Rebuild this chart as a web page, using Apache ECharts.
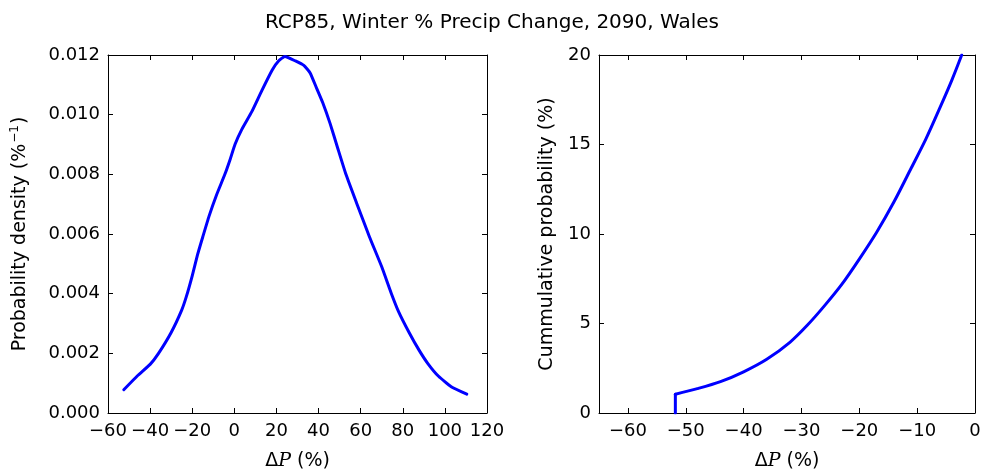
<!DOCTYPE html>
<html>
<head>
<meta charset="utf-8">
<script src="https://cdn.jsdelivr.net/npm/echarts@6/dist/echarts.min.js"></script>
<style>html,body{margin:0;padding:0;background:#fff}#c{width:984px;height:476px}</style>
</head>
<body>
<div id="c"></div>
<script>
const titleText = "RCP85, Winter % Precip Change, 2090, Wales";
// Left panel: probability density
const pdfX = [-52.5,-46,-40,-36,-30,-25,-22.8,-20,-17.5,-15,-12,-8.5,-4.5,-2,0.3,3.5,8.3,13,18,21,24,29,33,36,39,42,45.5,49,53,58,64.2,70,74.6,78,83,87.8,92,97,103,110.4];
const pdfY = [0.00078,0.00125,0.00163,0.0020,0.0027,0.00345,0.0039,0.0046,0.0053,0.0059,0.0066,0.0073,0.0080,0.0085,0.0090,0.0095,0.0101,0.0108,0.0115,0.0118,0.01195,0.0118,0.01165,0.0114,0.0109,0.0104,0.0097,0.0089,0.0080,0.00705,0.0059,0.0049,0.0040,0.0034,0.0027,0.0021,0.00165,0.00123,0.00088,0.00063];
// Right panel: cumulative probability
const cdfStepX = [-51.8,-51.8];
const cdfStepY = [0,1.05];
const cdfX = [-51.8,-48,-44,-40,-36,-32,-29,-26,-23,-20,-17,-14,-11,-8.5,-6,-4,-2.3];
const cdfY = [1.05,1.36,1.75,2.3,3.0,3.95,4.9,6.0,7.2,8.6,10.1,11.8,13.7,15.3,17.1,18.6,20.0];
const rightXTicks = [-60,-50,-40,-30,-20,-10,0];

const FONT = "DejaVu Sans";
const TICK_FS = 18, NAME_FS = 19;
const labelStyle = {color:'#000', fontFamily:FONT, fontSize:TICK_FS};
const lineStyleAx = {color:'#000', width:1};
const minus = s => String(s).replace('-', '\u2212');

function xAxes(gi, min, max, interval, custom) {
  const base = {
    type:'value', gridIndex:gi, min:min, max:max,
    axisLine:{show:true, onZero:false, lineStyle:lineStyleAx},
    splitLine:{show:false}
  };
  const bottom = Object.assign({}, base, {
    position:'bottom',
    axisTick:{show:true, inside:true, length:5, lineStyle:lineStyleAx},
    axisLabel:Object.assign({margin:9, formatter:v => minus(v)}, labelStyle),
    name:'Δ{i|P} (%)', nameLocation:'middle', nameGap:39,
    nameTextStyle:{color:'#000', fontFamily:FONT, fontSize:NAME_FS,
      rich:{i:{fontFamily:'DejaVu Serif', fontStyle:'italic', fontSize:NAME_FS, color:'#000'}}}
  });
  const top = Object.assign({}, base, {
    position:'top',
    axisTick:{show:true, inside:true, length:5, lineStyle:lineStyleAx},
    axisLabel:{show:false}
  });
  if (custom) {
    bottom.axisTick.customValues = custom;
    bottom.axisLabel.customValues = custom;
    top.axisTick.customValues = custom;
  } else {
    bottom.interval = interval; top.interval = interval;
  }
  return [bottom, top];
}
function yAxes(gi, min, max, interval, name, gap, fmt) {
  const base = {
    type:'value', gridIndex:gi, min:min, max:max, interval:interval,
    axisLine:{show:true, onZero:false, lineStyle:lineStyleAx},
    axisTick:{show:true, inside:true, length:5, lineStyle:lineStyleAx},
    splitLine:{show:false}
  };
  return [
    Object.assign({}, base, {position:'left',
      axisLabel:Object.assign({margin:8, formatter:fmt}, labelStyle),
      name:name, nameLocation:'middle', nameGap:gap,
      nameTextStyle:{color:'#000', fontFamily:FONT, fontSize:NAME_FS,
        rich:{s:{fontSize:12, verticalAlign:'bottom', padding:[0,1,11,1], color:'#000', fontFamily:FONT}}}
    }),
    Object.assign({}, base, {position:'right', axisLabel:{show:false}})
  ];
}

const lx = xAxes(0, -60, 120, 20, null);
const rx = xAxes(1, -65, 0, 10, rightXTicks);
const ly = yAxes(0, 0, 0.012, 0.002, 'Probability density (%{s|−1})', 76, v => v.toFixed(3));
const ry = yAxes(1, 0, 20, 5, 'Cummulative probability (%)', 42, v => String(v));

const lineSt = {color:'#0000ff', width:3, join:'round', cap:'round'};
const chart = echarts.init(document.getElementById('c'));
chart.setOption({
  animation:false,
  title:{text:titleText, left:'center', top:8, textStyle:{fontFamily:FONT, fontSize:20, fontWeight:'normal', color:'#000'}},
  grid:[
    {left:108, right:497, top:55, bottom:58},
    {left:599, right:9, top:55, bottom:58}
  ],
  xAxis:[lx[0], lx[1], rx[0], rx[1]],
  yAxis:[ly[0], ly[1], ry[0], ry[1]],
  series:[
    {type:'line', xAxisIndex:0, yAxisIndex:0, data:pdfX.map((x,i)=>[x,pdfY[i]]), smooth:0.15, showSymbol:false, lineStyle:lineSt},
    {type:'line', xAxisIndex:2, yAxisIndex:2, data:cdfStepX.map((x,i)=>[x,cdfStepY[i]]), showSymbol:false, lineStyle:lineSt},
    {type:'line', xAxisIndex:2, yAxisIndex:2, data:cdfX.map((x,i)=>[x,cdfY[i]]), smooth:0.3, showSymbol:false, lineStyle:lineSt}
  ]
});
</script>
</body>
</html>
